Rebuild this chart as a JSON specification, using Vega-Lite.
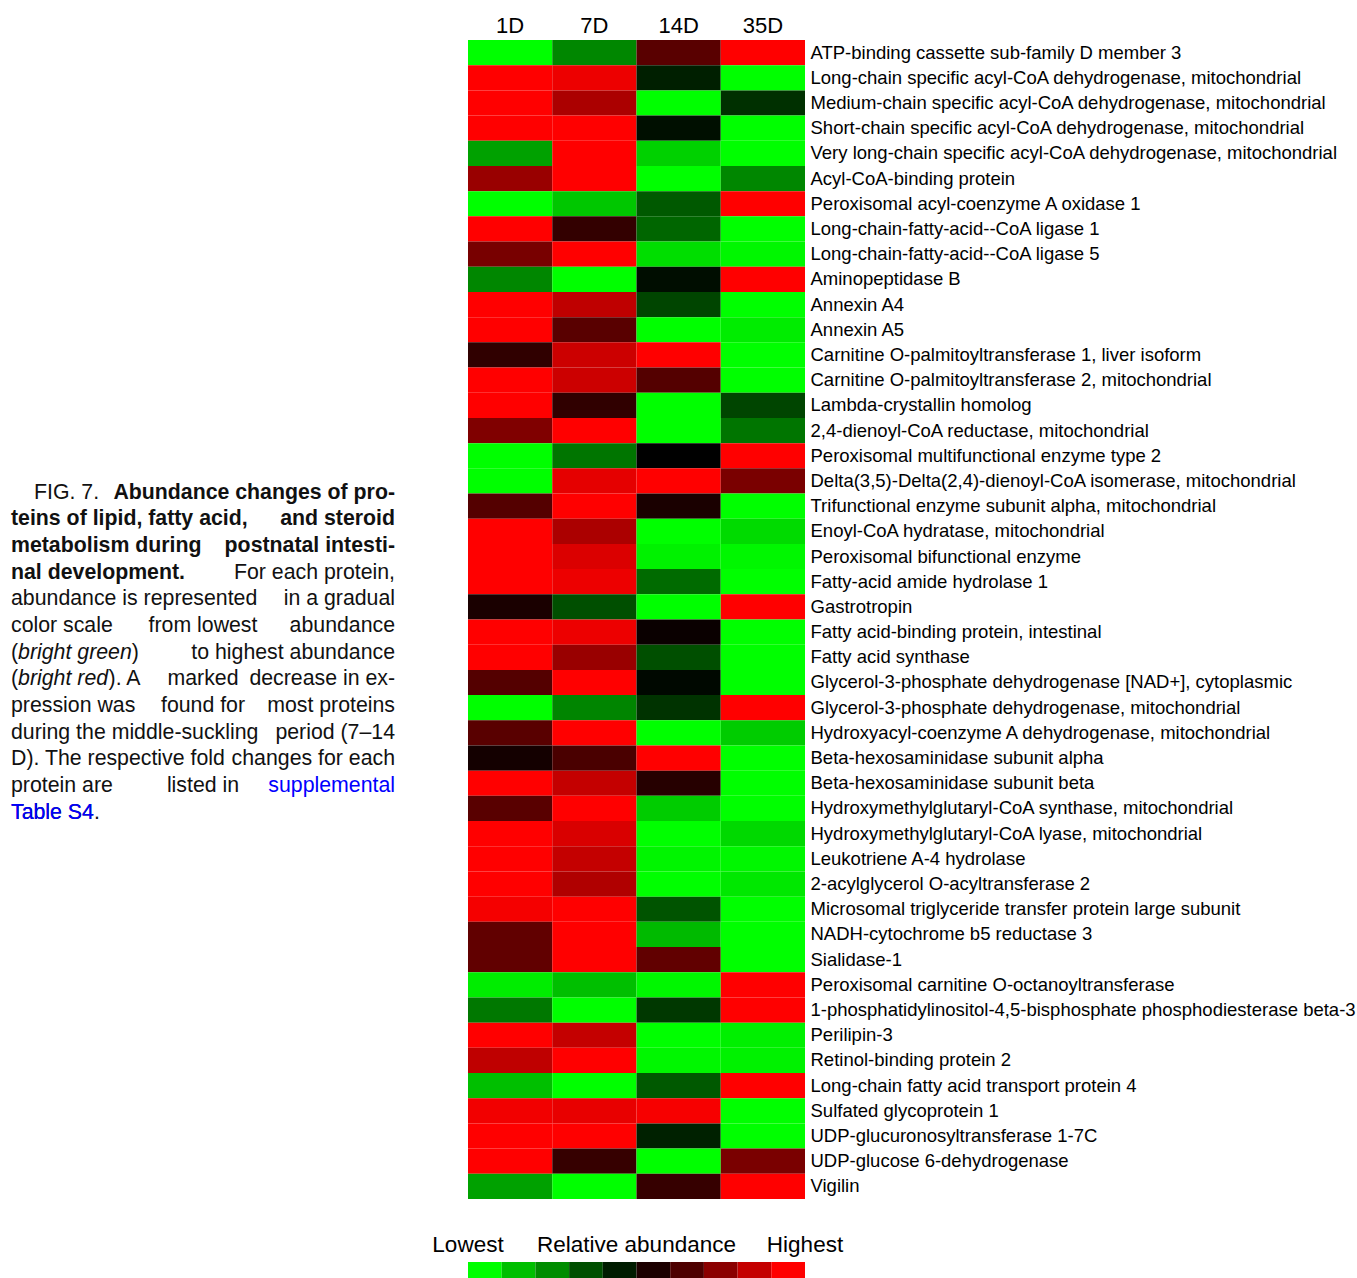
{
  "$schema": "https://vega.github.io/schema/vega-lite/v6.json",
  "background": "white",
  "padding": {"left": 11, "top": 14, "right": 2, "bottom": 0},
  "bounds": "flush",
  "spacing": 73,
  "config": {"view": {"stroke": null}, "font": "Liberation Sans"},
  "datasets": {
    "cells": [
      {"protein": "ATP-binding cassette sub-family D member 3", "1D": -1, "7D": -0.53, "14D": 0.35, "35D": 1},
      {"protein": "Long-chain specific acyl-CoA dehydrogenase, mitochondrial", "1D": 1, "7D": 0.93, "14D": -0.12, "35D": -1},
      {"protein": "Medium-chain specific acyl-CoA dehydrogenase, mitochondrial", "1D": 1, "7D": 0.67, "14D": -1, "35D": -0.19},
      {"protein": "Short-chain specific acyl-CoA dehydrogenase, mitochondrial", "1D": 1, "7D": 1, "14D": -0.06, "35D": -1},
      {"protein": "Very long-chain specific acyl-CoA dehydrogenase, mitochondrial", "1D": -0.63, "7D": 1, "14D": -0.82, "35D": -1},
      {"protein": "Acyl-CoA-binding protein", "1D": 0.6, "7D": 1, "14D": -1, "35D": -0.53},
      {"protein": "Peroxisomal acyl-coenzyme A oxidase 1", "1D": -1, "7D": -0.78, "14D": -0.35, "35D": 1},
      {"protein": "Long-chain-fatty-acid--CoA ligase 1", "1D": 1, "7D": 0.2, "14D": -0.4, "35D": -1},
      {"protein": "Long-chain-fatty-acid--CoA ligase 5", "1D": 0.47, "7D": 1, "14D": -0.87, "35D": -0.97},
      {"protein": "Aminopeptidase B", "1D": -0.53, "7D": -1, "14D": -0.05, "35D": 1},
      {"protein": "Annexin A4", "1D": 1, "7D": 0.75, "14D": -0.27, "35D": -1},
      {"protein": "Annexin A5", "1D": 1, "7D": 0.35, "14D": -1, "35D": -0.93},
      {"protein": "Carnitine O-palmitoyltransferase 1, liver isoform", "1D": 0.19, "7D": 0.8, "14D": 1, "35D": -1},
      {"protein": "Carnitine O-palmitoyltransferase 2, mitochondrial", "1D": 1, "7D": 0.8, "14D": 0.33, "35D": -1},
      {"protein": "Lambda-crystallin homolog", "1D": 1, "7D": 0.19, "14D": -1, "35D": -0.27},
      {"protein": "2,4-dienoyl-CoA reductase, mitochondrial", "1D": 0.5, "7D": 1, "14D": -1, "35D": -0.46},
      {"protein": "Peroxisomal multifunctional enzyme type 2", "1D": -1, "7D": -0.46, "14D": 0, "35D": 1},
      {"protein": "Delta(3,5)-Delta(2,4)-dienoyl-CoA isomerase, mitochondrial", "1D": -1, "7D": 0.9, "14D": 1, "35D": 0.48},
      {"protein": "Trifunctional enzyme subunit alpha, mitochondrial", "1D": 0.33, "7D": 1, "14D": 0.1, "35D": -1},
      {"protein": "Enoyl-CoA hydratase, mitochondrial", "1D": 1, "7D": 0.67, "14D": -1, "35D": -0.86},
      {"protein": "Peroxisomal bifunctional enzyme", "1D": 1, "7D": 0.86, "14D": -0.95, "35D": -0.97},
      {"protein": "Fatty-acid amide hydrolase 1", "1D": 1, "7D": 0.93, "14D": -0.42, "35D": -1},
      {"protein": "Gastrotropin", "1D": 0.1, "7D": -0.31, "14D": -1, "35D": 1},
      {"protein": "Fatty acid-binding protein, intestinal", "1D": 1, "7D": 0.93, "14D": 0.04, "35D": -1},
      {"protein": "Fatty acid synthase", "1D": 1, "7D": 0.6, "14D": -0.31, "35D": -1},
      {"protein": "Glycerol-3-phosphate dehydrogenase [NAD+], cytoplasmic", "1D": 0.33, "7D": 1, "14D": -0.03, "35D": -1},
      {"protein": "Glycerol-3-phosphate dehydrogenase, mitochondrial", "1D": -1, "7D": -0.52, "14D": -0.2, "35D": 1},
      {"protein": "Hydroxyacyl-coenzyme A dehydrogenase, mitochondrial", "1D": 0.35, "7D": 1, "14D": -1, "35D": -0.8},
      {"protein": "Beta-hexosaminidase subunit alpha", "1D": 0.08, "7D": 0.29, "14D": 1, "35D": -1},
      {"protein": "Beta-hexosaminidase subunit beta", "1D": 1, "7D": 0.77, "14D": 0.15, "35D": -1},
      {"protein": "Hydroxymethylglutaryl-CoA synthase, mitochondrial", "1D": 0.35, "7D": 1, "14D": -0.8, "35D": -1},
      {"protein": "Hydroxymethylglutaryl-CoA lyase, mitochondrial", "1D": 1, "7D": 0.85, "14D": -1, "35D": -0.85},
      {"protein": "Leukotriene A-4 hydrolase", "1D": 1, "7D": 0.77, "14D": -0.96, "35D": -0.97},
      {"protein": "2-acylglycerol O-acyltransferase 2", "1D": 1, "7D": 0.69, "14D": -1, "35D": -0.91},
      {"protein": "Microsomal triglyceride transfer protein large subunit", "1D": 0.96, "7D": 1, "14D": -0.33, "35D": -1},
      {"protein": "NADH-cytochrome b5 reductase 3", "1D": 0.38, "7D": 1, "14D": -0.73, "35D": -1},
      {"protein": "Sialidase-1", "1D": 0.38, "7D": 1, "14D": 0.38, "35D": -1},
      {"protein": "Peroxisomal carnitine O-octanoyltransferase", "1D": -0.93, "7D": -0.75, "14D": -0.97, "35D": 1},
      {"protein": "1-phosphatidylinositol-4,5-bisphosphate phosphodiesterase beta-3", "1D": -0.47, "7D": -1, "14D": -0.22, "35D": 1},
      {"protein": "Perilipin-3", "1D": 1, "7D": 0.77, "14D": -1, "35D": -0.94},
      {"protein": "Retinol-binding protein 2", "1D": 0.75, "7D": 1, "14D": -0.97, "35D": -0.95},
      {"protein": "Long-chain fatty acid transport protein 4", "1D": -0.75, "7D": -1, "14D": -0.35, "35D": 1},
      {"protein": "Sulfated glycoprotein 1", "1D": 0.95, "7D": 0.91, "14D": 0.97, "35D": -1},
      {"protein": "UDP-glucuronosyltransferase 1-7C", "1D": 1, "7D": 1, "14D": -0.13, "35D": -1},
      {"protein": "UDP-glucose 6-dehydrogenase", "1D": 1, "7D": 0.21, "14D": -1, "35D": 0.48},
      {"protein": "Vigilin", "1D": -0.63, "7D": -1, "14D": 0.21, "35D": 1}
    ],
    "caption": [
      {"line": 1, "role": "label", "side": "start", "text": "FIG. 7."},
      {"line": 1, "role": "title", "side": "end", "text": "Abundance changes of pro-"},
      {"line": 2, "role": "title", "side": "start", "text": "teins of lipid, fatty acid,"},
      {"line": 2, "role": "title", "side": "end", "text": "and steroid"},
      {"line": 3, "role": "title", "side": "start", "text": "metabolism during"},
      {"line": 3, "role": "title", "side": "end", "text": "postnatal intesti-"},
      {"line": 4, "role": "title", "side": "start", "text": "nal development."},
      {"line": 4, "role": "body", "side": "end", "text": "For each protein,"},
      {"line": 5, "role": "body", "side": "start", "text": "abundance is represented"},
      {"line": 5, "role": "body", "side": "end", "text": "in a gradual"},
      {"line": 6, "role": "body", "side": "start", "text": "color scale"},
      {"line": 6, "role": "body", "side": "middle", "text": "from lowest"},
      {"line": 6, "role": "body", "side": "end", "text": "abundance"},
      {"line": 7, "role": "body", "side": "start", "text": "(\u2002\u2002\u2002\u2002\u2002\u2002\u2002\u2002\u2002\u2002\u2004)"},
      {"line": 7, "role": "emph", "side": "start", "text": "\u200b\u2004bright green"},
      {"line": 7, "role": "body", "side": "end", "text": "to highest abundance"},
      {"line": 8, "role": "body", "side": "start", "text": "(\u2002\u2002\u2002\u2002\u2002\u2002\u2002\u2002\u2005). A"},
      {"line": 8, "role": "emph", "side": "start", "text": "\u200b\u2004bright red"},
      {"line": 8, "role": "body", "side": "middle", "text": "marked"},
      {"line": 8, "role": "body", "side": "end", "text": "decrease in ex-"},
      {"line": 9, "role": "body", "side": "start", "text": "pression was"},
      {"line": 9, "role": "body", "side": "middle", "text": "found for"},
      {"line": 9, "role": "body", "side": "end", "text": "most proteins"},
      {"line": 10, "role": "body", "side": "start", "text": "during the middle-suckling"},
      {"line": 10, "role": "body", "side": "end", "text": "period (7–14"},
      {"line": 11, "role": "body", "side": "start", "text": "D). The respective fold"},
      {"line": 11, "role": "body", "side": "end", "text": "changes for each"},
      {"line": 12, "role": "body", "side": "start", "text": "protein are"},
      {"line": 12, "role": "body", "side": "middle", "text": "listed in"},
      {"line": 12, "role": "link", "side": "end", "text": "supplemental"},
      {"line": 13, "role": "body", "side": "start", "text": "Table S4."},
      {"line": 13, "role": "link", "side": "start", "text": "Table S4"}
    ],
    "scalebar": [
      {"step": 1, "part": "bar", "v": -1},
      {"step": 2, "part": "bar", "v": -0.75},
      {"step": 3, "part": "bar", "v": -0.55},
      {"step": 4, "part": "bar", "v": -0.31},
      {"step": 5, "part": "bar", "v": -0.11},
      {"step": 6, "part": "bar", "v": 0.11},
      {"step": 7, "part": "bar", "v": 0.3},
      {"step": 8, "part": "bar", "v": 0.54},
      {"step": 9, "part": "bar", "v": 0.77},
      {"step": 10, "part": "bar", "v": 1}
    ],
    "scalelabels": [
      {"at": 0, "part": "label", "text": "Lowest"},
      {"at": 0.5, "part": "label", "text": "Relative abundance"},
      {"at": 1, "part": "label", "text": "Highest"}
    ]
  },
  "hconcat": [
    {
      "width": 384,
      "height": 1159,
      "data": {"name": "caption"},
      "encoding": {
        "y": {"field": "line", "type": "quantitative", "scale": {"domain": [-16.2, 27.26], "reverse": true, "nice": false, "zero": false}, "axis": null},
        "text": {"field": "text"}
      },
      "layer": [
        {"transform": [{"filter": "datum.role === 'label'"}], "mark": {"type": "text", "align": "left", "baseline": "alphabetic", "fontSize": 21.3, "dx": 23, "color": "#111"},
         "encoding": {"x": {"datum": 0, "type": "quantitative", "scale": {"domain": [0, 1], "nice": false, "zero": false}, "axis": null}}},
        {"transform": [{"filter": "datum.role === 'title' && datum.side === 'start'"}], "mark": {"type": "text", "align": "left", "baseline": "alphabetic", "fontSize": 21.3, "fontWeight": "bold", "color": "#111"},
         "encoding": {"x": {"datum": 0, "type": "quantitative", "axis": null}}},
        {"transform": [{"filter": "datum.role === 'title' && datum.side === 'end'"}], "mark": {"type": "text", "align": "right", "baseline": "alphabetic", "fontSize": 21.3, "fontWeight": "bold", "color": "#111"},
         "encoding": {"x": {"datum": 1, "type": "quantitative", "axis": null}}},
        {"transform": [{"filter": "datum.role === 'body' && datum.side === 'start'"}], "mark": {"type": "text", "align": "left", "baseline": "alphabetic", "fontSize": 21.3, "color": "#111"},
         "encoding": {"x": {"datum": 0, "type": "quantitative", "axis": null}}},
        {"transform": [{"filter": "datum.role === 'body' && datum.side === 'middle'"}], "mark": {"type": "text", "align": "center", "baseline": "alphabetic", "fontSize": 21.3, "color": "#111"},
         "encoding": {"x": {"datum": 0.5, "type": "quantitative", "axis": null}}},
        {"transform": [{"filter": "datum.role === 'body' && datum.side === 'end'"}], "mark": {"type": "text", "align": "right", "baseline": "alphabetic", "fontSize": 21.3, "color": "#111"},
         "encoding": {"x": {"datum": 1, "type": "quantitative", "axis": null}}},
        {"transform": [{"filter": "datum.role === 'emph'"}], "mark": {"type": "text", "align": "left", "baseline": "alphabetic", "fontSize": 21.3, "fontStyle": "italic", "color": "#111"},
         "encoding": {"x": {"datum": 0, "type": "quantitative", "axis": null}}},
        {"transform": [{"filter": "datum.role === 'link' && datum.side === 'start'"}], "mark": {"type": "text", "align": "left", "baseline": "alphabetic", "fontSize": 21.3, "color": "#0000ff"},
         "encoding": {"x": {"datum": 0, "type": "quantitative", "axis": null}}},
        {"transform": [{"filter": "datum.role === 'link' && datum.side === 'end'"}], "mark": {"type": "text", "align": "right", "baseline": "alphabetic", "fontSize": 21.3, "color": "#0000ff"},
         "encoding": {"x": {"datum": 1, "type": "quantitative", "axis": null}}}
      ]
    },
    {
      "bounds": "flush",
      "spacing": 43,
      "resolve": {"scale": {"x": "independent", "y": "independent"}},
      "vconcat": [
        {
          "width": 337,
          "height": 1159,
          "data": {"name": "cells"},
          "transform": [{"fold": ["1D", "7D", "14D", "35D"], "as": ["day", "v"]}],
          "mark": {"type": "rect"},
          "encoding": {
            "x": {"field": "day", "type": "nominal", "sort": ["1D", "7D", "14D", "35D"], "scale": {"paddingInner": 0, "paddingOuter": 0},
                  "axis": {"orient": "top", "title": null, "labelAngle": 0, "ticks": false, "domain": false, "labelFontSize": 22, "labelPadding": 3, "labelColor": "#000"}},
            "y": {"field": "protein", "type": "nominal", "sort": null, "scale": {"paddingInner": 0, "paddingOuter": 0},
                  "axis": {"orient": "right", "title": null, "ticks": false, "domain": false, "labelFontSize": 18.5, "labelPadding": 5, "labelLimit": 1000, "labelColor": "#000", "labelOverlap": false}},
            "color": {"field": "v", "type": "quantitative", "scale": {"domain": [-1, 0, 1], "range": ["#00ff00", "#000000", "#ff0000"], "interpolate": "rgb"}, "legend": null}
          }
        },
        {
          "width": 337,
          "height": 40,
          "resolve": {"scale": {"x": "independent"}},
          "layer": [
            {
              "data": {"name": "scalebar"},
              "mark": {"type": "rect"},
              "encoding": {
                "x": {"field": "step", "type": "ordinal", "scale": {"paddingInner": 0, "paddingOuter": 0}, "axis": null},
                "y": {"field": "part", "type": "nominal", "scale": {"domain": ["label", "bar"], "paddingInner": 0, "paddingOuter": 0}, "axis": null},
                "color": {"field": "v", "type": "quantitative", "scale": {"domain": [-1, 0, 1], "range": ["#00ff00", "#000000", "#ff0000"], "interpolate": "rgb"}, "legend": null}
              }
            },
            {
              "data": {"name": "scalelabels"},
              "mark": {"type": "text", "fontSize": 22.5, "baseline": "alphabetic", "align": "center", "color": "#000"},
              "encoding": {
                "x": {"field": "at", "type": "quantitative", "scale": {"domain": [0, 1], "nice": false, "zero": false}, "axis": null},
                "y": {"field": "part", "type": "nominal", "scale": {"domain": ["label", "bar"], "paddingInner": 0, "paddingOuter": 0}, "axis": null},
                "text": {"field": "text"}
              }
            }
          ]
        }
      ]
    }
  ],
  "resolve": {"scale": {"x": "independent", "y": "independent"}}
}
